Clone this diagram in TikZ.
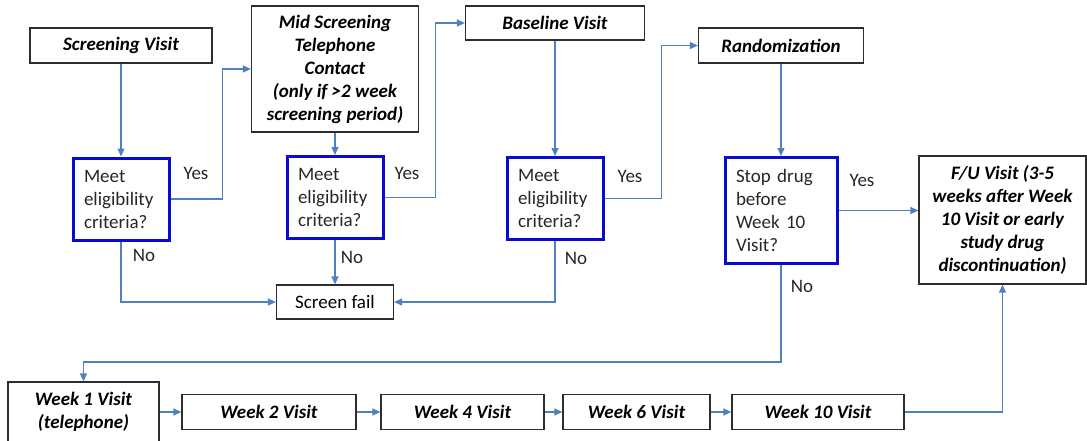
\documentclass[tikz,border=0pt]{standalone}
\usepackage{fontspec}
\setmainfont{Carlito}
\usetikzlibrary{arrows.meta}

\definecolor{flowblue}{RGB}{79,129,189}
\definecolor{choiceblue}{RGB}{10,10,210}
\definecolor{edgegray}{RGB}{45,45,45}

\tikzset{
  visit/.style={draw=edgegray, line width=1.2pt, align=center, inner sep=2pt,
    font=\fontsize{19}{23}\selectfont\bfseries\itshape},
  choice/.style={draw=choiceblue, line width=3pt, align=left, inner xsep=11pt,
    text width=74pt, minimum height=82pt, text=black!85,
    font=\fontsize{19}{23}\selectfont},
  flow/.style={->, draw=flowblue, line width=1.2pt},
  answer/.style={text=black!85, font=\fontsize{19}{23}\selectfont}
}

\begin{document}
\begin{tikzpicture}[x=1pt, y=-1pt, >={Triangle[length=8pt,width=7pt]}]
  \useasboundingbox (0,0) rectangle (1087,440);

  % Visits
  \node[visit, minimum width=182pt, minimum height=35pt] (SV) at (121,45.5) {Screening Visit};
  \node[visit, minimum width=167pt, minimum height=126pt] (MS) at (335,69) {Mid Screening\\Telephone\\Contact\\(only if >2 week\\screening period)};
  \node[visit, minimum width=179pt, minimum height=34pt] (BV) at (555,23) {Baseline Visit};
  \node[visit, minimum width=165pt, minimum height=35pt] (RD) at (781,45.5) {Randomization};
  \node[visit, minimum width=167pt, minimum height=128pt] (FU) at (1002.5,220) {F/U Visit (3-5\\weeks after Week\\10 Visit or early\\study drug\\discontinuation)};
  \node[visit, minimum width=117pt, minimum height=34pt, font=\fontsize{19}{23}\selectfont] (SF) at (335,302) {Screen fail};

  % Decisions
  \node[choice] (D1) at (121,199) {Meet\\eligibility\\criteria?};
  \node[choice] (D2) at (335,197.5) {Meet\\eligibility\\criteria?};
  \node[choice] (D3) at (555,198.5) {Meet\\eligibility\\criteria?};
  \node[choice, text width=90pt, minimum height=106pt] (D4) at (781,210.5) {Stop drug\\before\\Week 10\\Visit?};

  % Weeks
  \node[visit, minimum width=151pt, minimum height=60pt] (W1) at (83.5,412) {Week 1 Visit\\(telephone)};
  \node[visit, minimum width=174pt, minimum height=35pt] (W2) at (269,412) {Week 2 Visit};
  \node[visit, minimum width=163pt, minimum height=35pt] (W4) at (462.5,412) {Week 4 Visit};
  \node[visit, minimum width=147pt, minimum height=35pt] (W6) at (636.5,412) {Week 6 Visit};
  \node[visit, minimum width=172pt, minimum height=35pt] (W10) at (818,412) {Week 10 Visit};

  % Connectors
  \draw[flow] (SV) -- (D1);
  \draw[flow] (D1.east) -- ++(52,0) |- (MS.west);
  \draw[flow] (MS) -- (D2);
  \draw[flow] (D2.east) -- ++(51,0) |- (BV.west);
  \draw[flow] (BV) -- (D3);
  \draw[flow] (D3.east) -- ++(57,0) |- (RD.west);
  \draw[flow] (RD) -- (D4);
  \draw[flow] (D4.east) -- (D4.east -| FU.west);
  \draw[flow] (D1.south) |- (SF.west);
  \draw[flow] (D2) -- (SF);
  \draw[flow] (D3.south) |- (SF.east);
  \draw[flow] (D4.south) -- ++(0,97) -| (W1.north);
  \draw[flow] (W1) -- (W2);
  \draw[flow] (W2) -- (W4);
  \draw[flow] (W4) -- (W6);
  \draw[flow] (W6) -- (W10);
  \draw[flow] (W10.east) -| (FU.south);

  % Answers
  \node[answer] (Y1) at (196,173) {Yes};
  \node[answer] (Y2) at (407,173) {Yes};
  \node[answer] (Y3) at (630,176) {Yes};
  \node[answer] (Y4) at (862,180) {Yes};
  \node[answer] (N1) at (144,255) {No};
  \node[answer] (N2) at (352,257) {No};
  \node[answer] (N3) at (576,258) {No};
  \node[answer] (N4) at (802,286) {No};
\end{tikzpicture}
\end{document}
